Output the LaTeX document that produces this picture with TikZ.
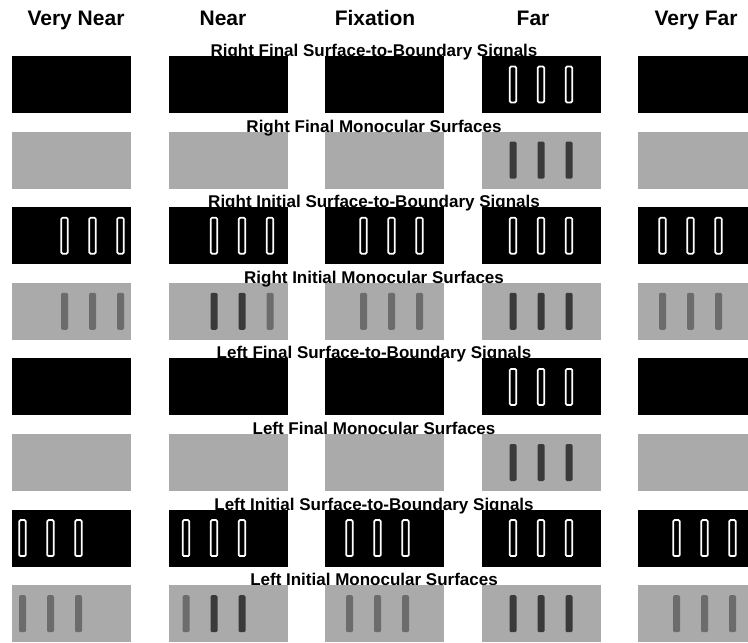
\documentclass[tikz,border=0pt]{standalone}
\usepackage{fontspec}
\setmainfont{Liberation Sans}
\usetikzlibrary{calc}
\definecolor{panelgray}{HTML}{AAAAAA}
\definecolor{bardark}{HTML}{3A3A3A}
\definecolor{barmid}{HTML}{6C6C6C}
\tikzset{
    bpanel/.style={rectangle,fill=black,inner sep=0pt,minimum width=89.25pt,minimum height=42.75pt},
    gpanel/.style={rectangle,fill=panelgray,inner sep=0pt,minimum width=89.25pt,minimum height=42.75pt},
    edgebar/.style={rectangle,draw=white,line width=1.3pt,rounded corners=1pt,inner sep=0pt,minimum width=4.9pt,minimum height=27pt},
    fillbar/.style={rectangle,rounded corners=1pt,inner sep=0pt,minimum width=5.25pt,minimum height=27.75pt},
    colhead/.style={anchor=base,font=\fontsize{15.75}{18}\selectfont\bfseries},
    rowlabel/.style={anchor=base,font=\fontsize{12.75}{15}\selectfont\bfseries}
}
\begin{document}
\begin{tikzpicture}[x=0.75pt,y=-0.75pt]
  \clip (0,0) rectangle (748,642);

  % panels, 8 rows x 5 columns
  \foreach \r/\sty in {1/bpanel,2/gpanel,3/bpanel,4/gpanel,5/bpanel,6/gpanel,7/bpanel,8/gpanel}{
    \foreach \c in {1,...,5}{
      \node[\sty] (p\r\c) at ({71.5+156.5*(\c-1)},{84.5+75.6*(\r-1)}) {};
    }
  }

  % initial boundary signals, shifted by disparity
  \foreach \r/\sgn in {3/1,7/-1}{
    \foreach \c in {1,...,5}{
      \foreach \k in {-1,0,1}{
        \node[edgebar] at ($(p\r\c)+({\sgn*7*(4-\c)+28*\k},0)$) {};
      }
    }
  }

  % final boundary signals, only at far
  \foreach \r in {1,5}{
    \foreach \k in {-1,0,1}{
      \node[edgebar] at ($(p\r4)+({28*\k},0)$) {};
    }
  }

  % final monocular surfaces, only at far
  \foreach \r in {2,6}{
    \foreach \k in {-1,0,1}{
      \node[fillbar,fill=bardark] at ($(p\r4)+({28*\k},0)$) {};
    }
  }

  % initial monocular surfaces
  \foreach \c/\ca/\cb/\cc in {1/barmid/barmid/barmid,2/bardark/bardark/barmid,3/barmid/barmid/barmid,4/bardark/bardark/bardark,5/barmid/barmid/barmid}{
    \pgfmathsetmacro{\s}{7*(4-\c)}
    \node[fillbar,fill=\ca] at ($(p4\c)+({\s-28},0)$) {};
    \node[fillbar,fill=\cb] at ($(p4\c)+({\s},0)$) {};
    \node[fillbar,fill=\cc] at ($(p4\c)+({\s+28},0)$) {};
  }
  \foreach \c/\ca/\cb/\cc in {1/barmid/barmid/barmid,2/barmid/bardark/bardark,3/barmid/barmid/barmid,4/bardark/bardark/bardark,5/barmid/barmid/barmid}{
    \pgfmathsetmacro{\s}{-7*(4-\c)}
    \node[fillbar,fill=\ca] at ($(p8\c)+({\s-28},0)$) {};
    \node[fillbar,fill=\cb] at ($(p8\c)+({\s},0)$) {};
    \node[fillbar,fill=\cc] at ($(p8\c)+({\s+28},0)$) {};
  }

  % column headings
  \foreach \c/\x/\txt in {1/76/Very Near,2/223/Near,3/375/Fixation,4/533/Far,5/696/Very Far}{
    \node[colhead] (h\c) at (\x,26) {\txt};
  }

  % row labels
  \foreach \r/\txt in {1/Right Final Surface-to-Boundary Signals,
                       2/Right Final Monocular Surfaces,
                       3/Right Initial Surface-to-Boundary Signals,
                       4/Right Initial Monocular Surfaces,
                       5/Left Final Surface-to-Boundary Signals,
                       6/Left Final Monocular Surfaces,
                       7/Left Initial Surface-to-Boundary Signals,
                       8/Left Initial Monocular Surfaces}{
    \node[rowlabel] (lab\r) at (374,{56.5+75.6*(\r-1)}) {\txt};
  }
\end{tikzpicture}
\end{document}
